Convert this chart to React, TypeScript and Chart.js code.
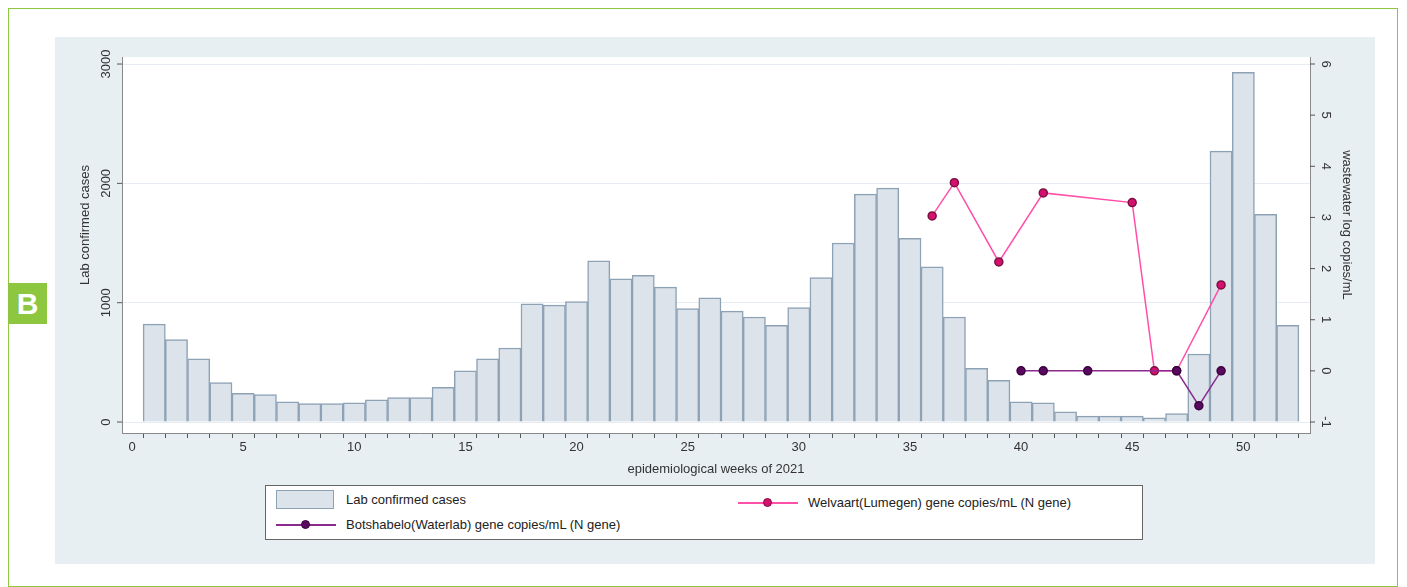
import React, { useEffect, useRef } from "react";
import { Chart, registerables } from "chart.js";
Chart.register(...registerables);

const weeks = Array.from({ length: 52 }, (_, i) => i + 1);
const labCases = [820, 690, 530, 330, 240, 230, 170, 155, 155, 160, 185, 205, 205, 290, 430, 530, 620, 990, 980, 1010, 1350, 1200, 1230, 1130, 950, 1040, 930, 880, 810, 960, 1210, 1500, 1910, 1960, 1540, 1300, 880, 450, 350, 170, 160, 85, 50, 50, 50, 35, 70, 570, 2270, 2930, 1740, 810];
const welvaartWeeks = [36, 37, 39, 41, 45, 46, 47, 49];
const welvaartVals = [3.03, 3.68, 2.13, 3.48, 3.29, 0, 0, 1.68];
const botWeeks = [40, 41, 43, 47, 48, 49];
const botVals = [0, 0, 0, 0, -0.68, 0];
const leftTicks = [0, 1000, 2000, 3000];
const rightTicks = [-1, 0, 1, 2, 3, 4, 5, 6];

const FONT = "'Liberation Sans', Arial, sans-serif";

export default function App() {
  const ref = useRef<HTMLCanvasElement>(null);
  useEffect(() => {
    const bgPlugin = {
      id: "areabg",
      beforeDraw(chart: any) {
        const { ctx, chartArea: ca } = chart;
        ctx.save();
        ctx.fillStyle = "#ffffff";
        ctx.fillRect(ca.left, ca.top, ca.right - ca.left, ca.bottom - ca.top);
        ctx.restore();
      },
    };
    const labelsPlugin = {
      id: "ylabels",
      afterDraw(chart: any) {
        const ctx = chart.ctx;
        const yl = chart.scales.y, yr = chart.scales.y2, ca = chart.chartArea;
        ctx.save();
        ctx.fillStyle = "#333";
        ctx.strokeStyle = "#555";
        ctx.font = `13px ${FONT}`;
        ctx.textAlign = "center";
        ctx.textBaseline = "middle";
        leftTicks.forEach((t) => {
          const y = yl.getPixelForValue(t);
          ctx.beginPath(); ctx.moveTo(ca.left, y); ctx.lineTo(ca.left - 5, y); ctx.stroke();
          ctx.save(); ctx.translate(ca.left - 16, y); ctx.rotate(-Math.PI / 2); ctx.fillText(String(t), 0, 0); ctx.restore();
        });
        rightTicks.forEach((t) => {
          const y = yr.getPixelForValue(t);
          ctx.beginPath(); ctx.moveTo(ca.right, y); ctx.lineTo(ca.right + 5, y); ctx.stroke();
          ctx.save(); ctx.translate(ca.right + 16, y); ctx.rotate(Math.PI / 2); ctx.fillText(String(t), 0, 0); ctx.restore();
        });
        const mid = (ca.top + ca.bottom) / 2;
        ctx.save(); ctx.translate(ca.left - 37, mid - 20); ctx.rotate(-Math.PI / 2); ctx.fillText("Lab confirmed cases", 0, 0); ctx.restore();
        ctx.save(); ctx.translate(ca.right + 37, mid - 20); ctx.rotate(Math.PI / 2); ctx.fillText("wastewater log copies/mL", 0, 0); ctx.restore();
        ctx.restore();
      },
    };
    const chart = new Chart(ref.current!, {
      type: "bar",
      data: {
        datasets: [
          {
            type: "line",
            label: "Welvaart",
            data: welvaartWeeks.map((w, i) => ({ x: w, y: welvaartVals[i] })),
            yAxisID: "y2",
            borderColor: "#ff4fa8",
            backgroundColor: "#d6106e",
            pointBorderColor: "#7a1040",
            borderWidth: 1.5,
            pointRadius: 4,
            order: 1,
          },
          {
            type: "line",
            label: "Botshabelo",
            data: botWeeks.map((w, i) => ({ x: w, y: botVals[i] })),
            yAxisID: "y2",
            borderColor: "#8a2a8e",
            backgroundColor: "#5a0a5e",
            pointBorderColor: "#3a0040",
            borderWidth: 1.5,
            pointRadius: 4,
            order: 0,
          },
          {
            type: "bar",
            label: "Lab",
            data: weeks.map((w, i) => ({ x: w, y: labCases[i] })),
            yAxisID: "y",
            backgroundColor: "#dce3ea",
            borderColor: "#8ea2b6",
            borderWidth: 1.5,
            barPercentage: 1,
            categoryPercentage: 1,
            order: 2,
          } as any,
        ],
      },
      options: {
        animation: false,
        responsive: false,
        maintainAspectRatio: false,
        layout: { padding: { top: 20, left: 0, right: 0, bottom: 0 } },
        plugins: { legend: { display: false }, tooltip: { enabled: false } },
        scales: {
          x: {
            type: "linear",
            min: -0.45,
            max: 53,
            offset: false,
            afterBuildTicks: (s: any) => { s.ticks = Array.from({ length: 53 }, (_, i) => ({ value: i })); },
            ticks: {
              autoSkip: false,
              maxRotation: 0,
              callback: (v: any) => (v % 5 === 0 ? String(v) : ""),
              color: "#333",
              font: { size: 13, family: FONT },
              padding: 2,
            },
            grid: { drawOnChartArea: false, tickLength: 5, color: "#555" },
            border: { color: "#888" },
            title: { display: true, text: "epidemiological weeks of 2021", color: "#333", font: { size: 13, family: FONT }, padding: 0 },
            afterFit: (s: any) => { s.height = 44; },
          },
          y: {
            position: "left",
            min: -92,
            max: 3059,
            afterBuildTicks: (s: any) => { s.ticks = leftTicks.map((v) => ({ value: v })); },
            ticks: { display: false },
            grid: { color: "#e6ecf1", drawTicks: false },
            border: { color: "#888" },
            afterFit: (s: any) => { s.width = 67; },
          },
          y2: {
            position: "right",
            min: -1.215,
            max: 6.137,
            afterBuildTicks: (s: any) => { s.ticks = rightTicks.map((v) => ({ value: v })); },
            ticks: { display: false },
            grid: { drawOnChartArea: false, drawTicks: false },
            border: { color: "#888" },
            afterFit: (s: any) => { s.width = 65; },
          },
        },
      } as any,
      plugins: [bgPlugin, labelsPlugin],
    });
    return () => chart.destroy();
  }, []);

  const txt: React.CSSProperties = { position: "absolute", fontFamily: FONT, fontSize: 13, color: "#222", lineHeight: "16px" };
  return (
    <div style={{ position: "relative", width: 1390, height: 579, border: "1px solid #8dc63f", boxSizing: "border-box", background: "#fff" }}>
      <div style={{ position: "absolute", left: -1, top: 274, width: 39, height: 41, background: "#8dc63f", color: "#fff", fontFamily: FONT, fontWeight: "bold", fontSize: 30, display: "flex", alignItems: "center", justifyContent: "center" }}>B</div>
      <div style={{ position: "absolute", left: 46, top: 28, width: 1320, height: 527, background: "#e8eff2" }}>
        <canvas ref={ref} width={1320} height={440} style={{ position: "absolute", left: 0, top: 0 }} />
      </div>
      <div style={{ position: "absolute", left: 256, top: 476, width: 878, height: 55, background: "#fff", border: "1px solid #666", boxSizing: "border-box" }}>
        <div style={{ position: "absolute", left: 10, top: 4, width: 58, height: 19, background: "#dce3ea", border: "1.5px solid #8ea2b6", boxSizing: "border-box" }} />
        <div style={{ ...txt, left: 80, top: 6 }}>Lab confirmed cases</div>
        <div style={{ position: "absolute", left: 472, top: 16, width: 60, height: 1.5, background: "#ff4fa8" }} />
        <div style={{ position: "absolute", left: 497, top: 12, width: 9, height: 9, borderRadius: "50%", background: "#d6106e", border: "1px solid #7a1040", boxSizing: "border-box" }} />
        <div style={{ ...txt, left: 542, top: 9 }}>Welvaart(Lumegen) gene copies/mL (N gene)</div>
        <div style={{ position: "absolute", left: 10, top: 38, width: 60, height: 1.5, background: "#8a2a8e" }} />
        <div style={{ position: "absolute", left: 35, top: 34, width: 9, height: 9, borderRadius: "50%", background: "#5a0a5e", border: "1px solid #3a0040", boxSizing: "border-box" }} />
        <div style={{ ...txt, left: 80, top: 31 }}>Botshabelo(Waterlab) gene copies/mL (N gene)</div>
      </div>
    </div>
  );
}
